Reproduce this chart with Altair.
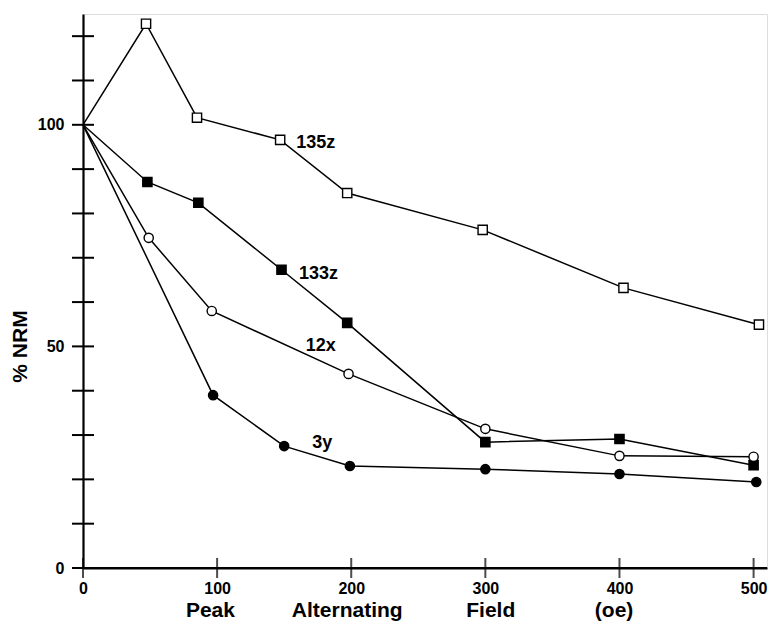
import altair as alt
import pandas as pd

# ---- data ----
x_135z = [0, 47, 85, 147, 197, 298, 403, 504]
y_135z = [100, 122.8, 101.6, 96.6, 84.6, 76.3, 63.2, 54.9]
x_133z = [0, 48, 86, 148, 197, 300, 400, 500]
y_133z = [100, 87.1, 82.4, 67.3, 55.3, 28.4, 29.1, 23.2]
x_12x = [0, 49, 96, 198, 300, 400, 500]
y_12x = [100, 74.5, 58.0, 43.8, 31.4, 25.3, 25.1]
x_3y = [0, 97, 150, 199, 300, 400, 502]
y_3y = [100, 39.0, 27.5, 23.0, 22.3, 21.2, 19.4]

series_names = ["135z", "133z", "12x", "3y"]
series_shapes = ["square", "square", "circle", "circle"]
series_fills = ["white", "black", "white", "black"]
label_x = [159, 161, 166, 171]
label_y = [95.9, 66.4, 50.1, 28.2]

x_tick_values = [0, 100, 200, 300, 400, 500]
x_axis_extent = [0, 510]
y_tick_values = [0, 10, 20, 30, 40, 50, 60, 70, 80, 90, 100, 110, 120]
y_label_values = [0, 50, 100]
title_words = ["Peak", "Alternating", "Field", "(oe)"]
title_word_x = [95, 197, 304, 396]

FONT = "Liberation Sans"
W, H = 684, 554

rows = []
for name, xs, ys in zip(series_names, [x_135z, x_133z, x_12x, x_3y], [y_135z, y_133z, y_12x, y_3y]):
    for i, (xv, yv) in enumerate(zip(xs, ys)):
        rows.append({"series": name, "x": xv, "y": yv, "order": i})
df = pd.DataFrame(rows)

labels_df = pd.DataFrame({"series": series_names, "x": label_x, "y": label_y})
xt_df = pd.DataFrame({"x": x_tick_values})
yt_df = pd.DataFrame({"y": y_tick_values})
tw_df = pd.DataFrame({"word": title_words, "x": title_word_x})
base_df = pd.DataFrame({"x": [x_axis_extent[0]], "x2": [x_axis_extent[1]]})

X = alt.X("x:Q", scale=alt.Scale(domain=x_axis_extent, nice=False, zero=False),
          axis=alt.Axis(values=x_tick_values, ticks=False, grid=False, title=None,
                        domainColor="black", domainWidth=2.2, labelFlush=False,
                        labelFont=FONT, labelFontSize=16, labelFontWeight="bold",
                        labelColor="black", labelPadding=12, labelBaseline="top"))
Y = alt.Y("y:Q", scale=alt.Scale(domain=[0, 125], nice=False, zero=False),
          axis=alt.Axis(values=y_label_values, ticks=False, grid=False, title="% NRM",
                        domainColor="black", domainWidth=2.2, labelFlush=False,
                        labelFont=FONT, labelFontSize=16, labelFontWeight="bold",
                        labelColor="black", labelPadding=19,
                        titleFont=FONT, titleFontSize=21, titleFontWeight="bold",
                        titleColor="black", titleX=-63, titleY=332,
                        titleAlign="center", titleBaseline="middle", titleAngle=-90))

baseline = alt.Chart(base_df).mark_rule(color="black", strokeWidth=2.2).encode(
    x=X, x2="x2:Q", y=alt.datum(0, type="quantitative"))

lines = alt.Chart(df).mark_line(color="black", strokeWidth=1.5).encode(
    x=X, y=Y, detail="series:N", order="order:Q")

points = alt.Chart(df).transform_filter("datum.x > 0").mark_point(
    stroke="black", strokeWidth=1.4, opacity=1, fillOpacity=1).encode(
    x=X, y=Y,
    shape=alt.Shape("series:N", scale=alt.Scale(domain=series_names, range=series_shapes), legend=None),
    fill=alt.Fill("series:N", scale=alt.Scale(domain=series_names, range=series_fills), legend=None),
    size=alt.value(85))

# crossing x ticks centred on the x axis line
xticks = alt.Chart(xt_df).mark_tick(
    color="black", thickness=2, size=20, orient="vertical").encode(
    x=X, y=alt.datum(0, type="quantitative"))
yticks = alt.Chart(yt_df).mark_rule(color="black", strokeWidth=2).encode(
    y=Y, x=alt.value(-11), x2=alt.value(11))

labels = alt.Chart(labels_df).mark_text(
    align="left", baseline="middle", font=FONT, fontSize=18, fontWeight="bold", color="black").encode(
    x=X, y=Y, text="series:N")

words = alt.Chart(tw_df).mark_text(
    align="center", baseline="middle", font=FONT, fontSize=21, fontWeight="bold", color="black").encode(
    x=X, y=alt.value(597), text="word:N")

chart = alt.layer(baseline, lines, points, xticks, yticks, labels, words).properties(
    width=W, height=H,
    autosize=alt.AutoSizeParams(type="none"),
    padding={"left": 83, "top": 14, "right": 7, "bottom": 59},
).configure_view(stroke=None).configure(background="white")

chart.save("out.html", embed_options={"renderer": "svg", "actions": False})
